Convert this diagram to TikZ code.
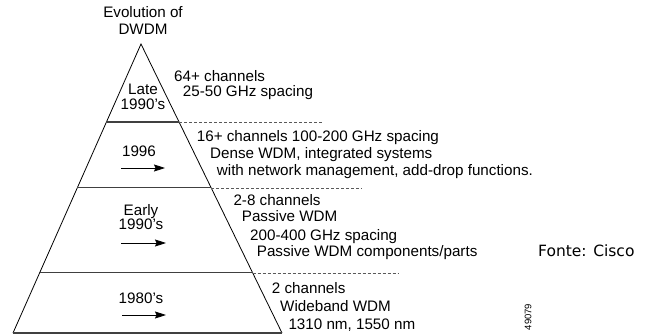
\documentclass[tikz,border=0pt]{standalone}
\usepackage{fontspec}
\setmainfont{Liberation Sans}
\newfontfamily\fontefont{DejaVu Sans}
\usetikzlibrary{arrows.meta,calc}
\tikzset{
  edge/.style={line width=0.8pt,black},
  tier/.style={line width=1.1pt,black!75},
  sep/.style={line width=0.7pt,black!65,dash pattern=on 3pt off 2pt},
  era/.style={-{Stealth[length=11pt,width=7pt,inset=1.5pt]},line width=0.8pt},
  lbl/.style={inner sep=0pt,anchor=base,font=\fontsize{15.2}{16}\selectfont},
  txt/.style={inner sep=0pt,anchor=base west,font=\fontsize{15.2}{16}\selectfont}
}
\begin{document}
\begin{tikzpicture}[x=1pt,y=-1pt]
\useasboundingbox (0,0) rectangle (650,334);
% triangle
\coordinate (apex) at (141,44);
\coordinate (bl) at (13,333);
\coordinate (br) at (282,333);
\draw[edge] (bl) -- (apex) -- (br);
\draw[tier] (bl) -- (br);
% tier lines
\coordinate (l1) at ($(apex)!0.27!(bl)$);
\coordinate (r1) at ($(apex)!0.27!(br)$);
\coordinate (l2) at ($(apex)!0.498!(bl)$);
\coordinate (r2) at ($(apex)!0.498!(br)$);
\coordinate (l3) at ($(apex)!0.792!(bl)$);
\coordinate (r3) at ($(apex)!0.792!(br)$);
\draw[tier] (l1) -- (r1);
\draw[tier] (l2) -- (r2);
\draw[tier] (l3) -- (r3);
\coordinate (d1) at (323,122);
\coordinate (d2) at (362,188);
\coordinate (d3) at (398,273);
\draw[sep] (r1) -- (d1 |- r1);
\draw[sep] (r2) -- (d2 |- r2);
\draw[sep] (r3) -- (d3 |- r3);
% title
\node[lbl] (t1) at (143,17.5) {Evolution of};
\node[lbl] (t2) at (143,34.3) {DWDM};
% tier labels
\node[lbl] (late1) at (143,95) {Late};
\node[lbl] (late2) at (143,110) {1990's};
\node[lbl] (y96) at (139,156) {1996};
\coordinate (a1s) at (121,168); \coordinate (a1e) at (165,168);
\draw[era] (a1s) -- (a1e);
\node[lbl] (early1) at (141,215) {Early};
\node[lbl] (early2) at (141,229) {1990's};
\coordinate (a2s) at (121,243); \coordinate (a2e) at (166,243);
\draw[era] (a2s) -- (a2e);
\node[lbl] (y80) at (141,303.3) {1980's};
\coordinate (a3s) at (122,315); \coordinate (a3e) at (166,315);
\draw[era] (a3s) -- (a3e);
% descriptions
\node[txt] (b1a) at (174,81.7) {64+ channels};
\node[txt] (b1b) at (182.7,96.7) {25-50 GHz spacing};
\node[txt] (b2a) at (196.7,141.7) {16+ channels 100-200 GHz spacing};
\node[txt] (b2b) at (210,158.3) {Dense WDM, integrated systems};
\node[txt] (b2c) at (216.7,175) {with network management, add-drop functions.};
\node[txt] (b3a) at (233.3,205) {2-8 channels};
\node[txt] (b3b) at (241.7,221.7) {Passive WDM};
\node[txt] (b3c) at (250,240) {200-400 GHz spacing};
\node[txt] (b3d) at (256.7,256) {Passive WDM components/parts};
\node[txt] (b4a) at (271.7,293.3) {2 channels};
\node[txt] (b4b) at (280,311) {Wideband WDM};
\node[txt] (b4c) at (288.3,329) {1310 nm, 1550 nm};
% source
\node[inner sep=0pt,anchor=base west,font=\fontefont\fontsize{15.5}{16}\selectfont] (src) at (538,256) {Fonte: Cisco};
\node[inner sep=0pt,rotate=90,font=\fontsize{9.5}{9.5}\selectfont] (code) at (528,317) {49079};
\end{tikzpicture}
\end{document}
